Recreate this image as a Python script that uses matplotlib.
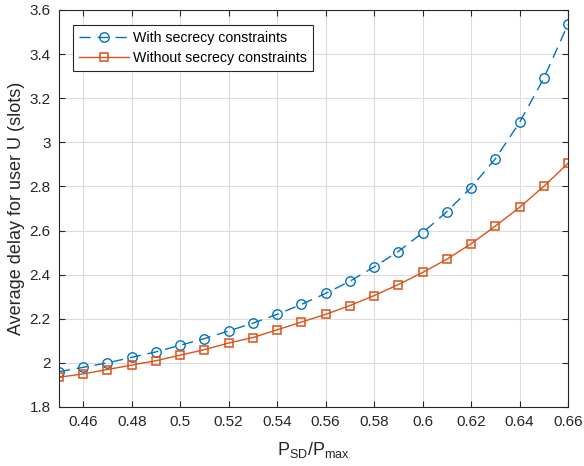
import matplotlib
matplotlib.use("Agg")
import matplotlib.pyplot as plt
import numpy as np

x = [0.45, 0.46, 0.47, 0.48, 0.49, 0.50, 0.51, 0.52, 0.53, 0.54, 0.55,
     0.56, 0.57, 0.58, 0.59, 0.60, 0.61, 0.62, 0.63, 0.64, 0.65, 0.66]
with_secrecy = [1.96, 1.98, 2.00, 2.025, 2.05, 2.08, 2.11, 2.145, 2.18, 2.22, 2.265,
                2.315, 2.37, 2.435, 2.505, 2.59, 2.685, 2.795, 2.925, 3.09, 3.29, 3.535]
without_secrecy = [1.935, 1.95, 1.97, 1.99, 2.01, 2.035, 2.06, 2.09, 2.115, 2.15, 2.185,
                   2.22, 2.26, 2.305, 2.355, 2.41, 2.47, 2.54, 2.62, 2.705, 2.80, 2.905]
xticks = [0.46, 0.48, 0.5, 0.52, 0.54, 0.56, 0.58, 0.6, 0.62, 0.64, 0.66]
xticklabels = ["0.46", "0.48", "0.5", "0.52", "0.54", "0.56", "0.58", "0.6", "0.62", "0.64", "0.66"]
yticks = [1.8, 2.0, 2.2, 2.4, 2.6, 2.8, 3.0, 3.2, 3.4, 3.6]
yticklabels = ["1.8", "2", "2.2", "2.4", "2.6", "2.8", "3", "3.2", "3.4", "3.6"]

plt.rcParams['font.family'] = ['Liberation Sans', 'DejaVu Sans']

fig = plt.figure(figsize=(5.84, 4.66), dpi=100)
L, R, T, B = 59, 568, 10, 407
ax = fig.add_axes([L/584, 1 - B/466, (R-L)/584, (B-T)/466])

blue = '#0072BD'
orange = '#D95319'
ax.plot(x, with_secrecy, color=blue, linestyle=(0, (8, 5)), linewidth=1.0,
        marker='o', markersize=6.8, markerfacecolor='none', markeredgecolor=blue,
        markeredgewidth=1.0, label='With secrecy constraints')
ax.plot(x, without_secrecy, color=orange, linestyle='-', linewidth=1.0,
        marker='s', markersize=5.6, markerfacecolor='none', markeredgecolor=orange,
        markeredgewidth=1.1, label='Without secrecy constraints')

ax.set_xlim(0.45, 0.66)
ax.set_ylim(1.8, 3.6)
ax.set_xticks(xticks)
ax.set_xticklabels(xticklabels)
ax.set_yticks(yticks)
ax.set_yticklabels(yticklabels)
ax.grid(True, color='#dcdcdc', linewidth=0.8)
ax.set_axisbelow(True)
ax.tick_params(direction='in', top=True, right=True, labelsize=11, length=4,
               color='#262626', labelcolor='#262626', pad=6)
for s in ax.spines.values():
    s.set_color('#262626')
    s.set_linewidth(0.8)

ax.set_xlabel(r'P$_{\mathregular{SD}}$/P$_{\mathregular{max}}$', fontsize=13, color='#262626', labelpad=8)
ax.set_ylabel('Average delay for user U (slots)', fontsize=13, color='#262626', labelpad=3)

leg = ax.legend(loc='upper left', bbox_to_anchor=(14/(R-L), 1 - 15/(B-T)),
                borderaxespad=0, fontsize=10.2,
                frameon=True, fancybox=False, edgecolor='#262626', framealpha=1,
                borderpad=0.45, handlelength=3.5, labelspacing=0.4,
                handletextpad=0.3)
leg.get_frame().set_linewidth(0.8)

fig.savefig('out.png', dpi=100)
